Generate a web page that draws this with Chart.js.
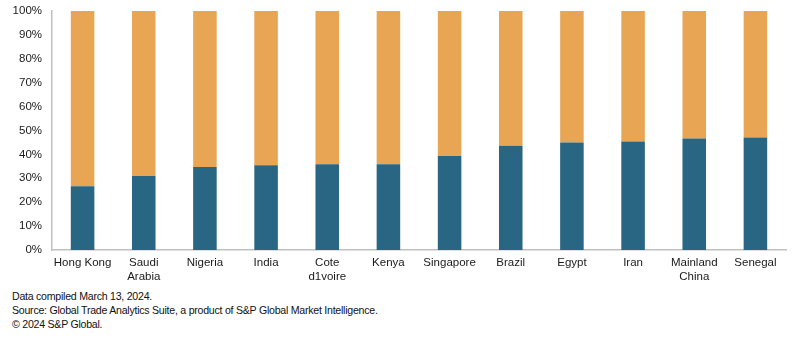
<!DOCTYPE html>
<html>
<head>
<meta charset="utf-8">
<script src="https://cdn.jsdelivr.net/npm/chart.js@4"></script>
<style>
  body { margin: 0; background: #fff; width: 794px; height: 338px; overflow: hidden; }
  #wrap { position: relative; width: 794px; height: 295px; margin-top: -6px; }
  .note { font-family: "Liberation Sans", Arial, sans-serif; font-size: 10.6px; letter-spacing: -0.25px; color: #111; padding-left: 12px; line-height: 14px; }
</style>
</head>
<body>
<div id="wrap"><canvas id="chart-share"></canvas></div>
<div class="note">
  <div>Data compiled March 13, 2024.</div>
  <div>Source: Global Trade Analytics Suite, a product of S&amp;P Global Market Intelligence.</div>
  <div>© 2024 S&amp;P Global.</div>
</div>
<script>
/* Share by market, 100% stacked */
var markets = [
    'Hong Kong', ['Saudi', 'Arabia'], 'Nigeria', 'India', ['Cote', 'd1voire'], 'Kenya',
    'Singapore', 'Brazil', 'Egypt', 'Iran', ['Mainland', 'China'], 'Senegal'
];
var lowerShare = [26.7, 31.0, 34.7, 35.4, 35.9, 35.9, 39.3, 43.6, 45.0, 45.4, 46.6, 47.0];
var upperShare = lowerShare.map(function (v) { return 100 - v; });
var yTicks = [0, 10, 20, 30, 40, 50, 60, 70, 80, 90, 100];

var tickFont = { family: '"Liberation Sans", Arial, sans-serif', size: 11.5 };

var ctx = document.getElementById('chart-share').getContext('2d');
var shareChart = new Chart(ctx, {
    type: 'bar',
    data: {
        labels: markets,
        datasets: [{
            data: lowerShare,
            backgroundColor: '#296683',
            categoryPercentage: 0.385,
            barPercentage: 1
        }, {
            data: upperShare,
            backgroundColor: '#e8a655',
            categoryPercentage: 0.385,
            barPercentage: 1
        }]
    },
    options: {
        responsive: true,
        maintainAspectRatio: false,
        animation: false,
        plugins: {
            legend: { display: false },
            tooltip: { enabled: false }
        },
        layout: {
            padding: { left: 0, right: 8, top: 5, bottom: 0 }
        },
        scales: {
            x: {
                stacked: true,
                grid: { display: false, drawTicks: false },
                border: { color: '#c0c0c0', width: 1.5 },
                ticks: {
                    color: '#1a1a1a',
                    padding: 6,
                    maxRotation: 0,
                    autoSkip: false,
                    font: tickFont
                },
                afterFit: function (scale) { scale.height = 39; }
            },
            y: {
                stacked: true,
                min: 0,
                max: 100,
                afterBuildTicks: function (scale) {
                    scale.ticks = yTicks.map(function (v) { return { value: v }; });
                },
                grid: { display: false, drawTicks: false },
                border: { color: '#c0c0c0', width: 1.5 },
                ticks: {
                    color: '#1a1a1a',
                    padding: 10,
                    callback: function (v) { return v + '%'; },
                    font: tickFont
                },
                afterFit: function (scale) { scale.width = 52; }
            }
        }
    }
});
</script>
</body>
</html>
